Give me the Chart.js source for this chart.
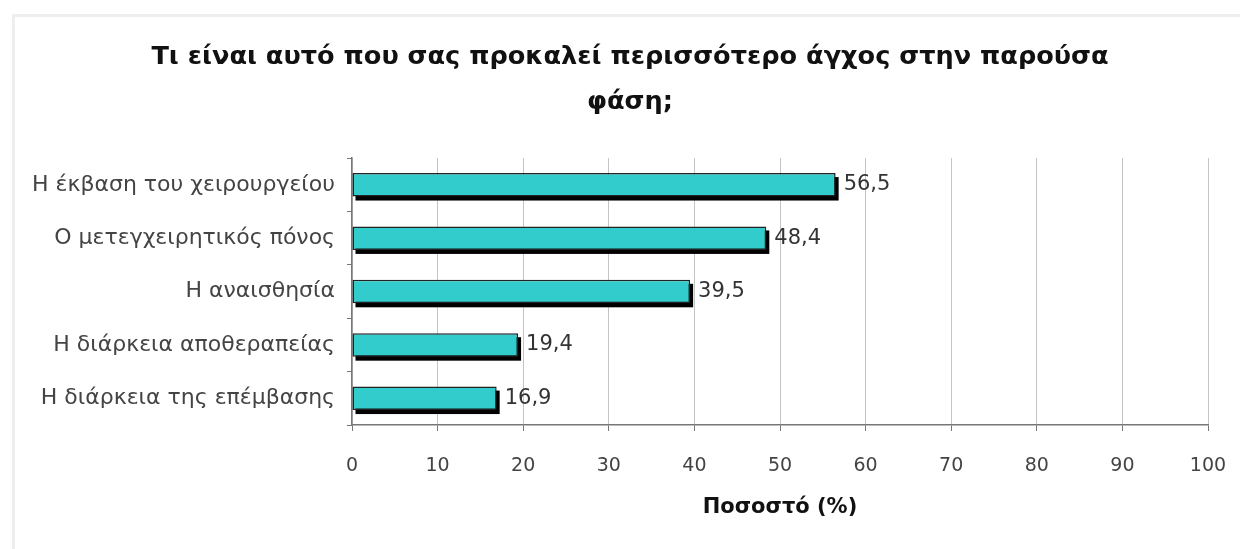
<!DOCTYPE html>
<html>
<head>
<meta charset="utf-8">
<script src="https://cdn.jsdelivr.net/npm/chart.js@4"></script>
<style>
  html, body { margin: 0; padding: 0; background: #fff; }
  #wrap { position: relative; width: 1240px; height: 549px; }
  #frame { position: absolute; left: 12px; top: 14px; right: 0; bottom: 0; border-left: 3px solid #eeeeee; border-top: 3px solid #eeeeee; }
  canvas { position: absolute; left: 0; top: 0; }
</style>
</head>
<body>
<div id="wrap">
  <div id="frame"></div>
  <canvas id="c" width="1240" height="549"></canvas>
</div>
<script>
'use strict';

const TITLE = ['Τι είναι αυτό που σας προκαλεί περισσότερο άγχος στην παρούσα', 'φάση;'];
const LABELS = [
  'Η έκβαση του χειρουργείου',
  'Ο μετεγχειρητικός πόνος',
  'Η αναισθησία',
  'Η διάρκεια αποθεραπείας',
  'Η διάρκεια της επέμβασης'
];
const VALUES = [56.5, 48.4, 39.5, 19.4, 16.9];
const X_TITLE = 'Ποσοστό (%)';

const FONT = 'DejaVu Sans, Verdana, sans-serif';

// black drop shadow behind the bars, taken from the bar elements
const shadow = {
  id: 'shadow',
  beforeDatasetsDraw(chart) {
    const c = chart.ctx;
    c.save();
    c.fillStyle = '#000';
    chart.getDatasetMeta(0).data.forEach(bar => {
      const h = bar.height;
      c.fillRect(bar.base + 3, bar.y - h / 2 + 4, bar.x - bar.base, h);
    });
    c.restore();
  }
};

// value labels at the bar ends, comma decimal
const valueLabels = {
  id: 'valueLabels',
  afterDatasetsDraw(chart) {
    const c = chart.ctx;
    c.save();
    c.font = '21px ' + FONT;
    c.fillStyle = '#333';
    c.textBaseline = 'middle';
    c.textAlign = 'left';
    chart.getDatasetMeta(0).data.forEach((bar, i) => {
      c.fillText(VALUES[i].toFixed(1).replace('.', ','), bar.x + 8, bar.y);
    });
    c.restore();
  }
};

new Chart(document.getElementById('c').getContext('2d'), {
  type: 'bar',
  data: {
    labels: LABELS,
    datasets: [{
      data: VALUES,
      backgroundColor: '#33cccc',
      borderColor: '#222',
      borderWidth: 1.5,
      borderSkipped: false,
      barPercentage: 0.88,
      categoryPercentage: 0.5
    }]
  },
  options: {
    indexAxis: 'y',
    responsive: false,
    animation: false,
    layout: { padding: { left: 20, right: 0, top: 0, bottom: 25 } },
    plugins: {
      legend: { display: false },
      tooltip: { enabled: false },
      title: {
        display: true,
        text: TITLE,
        color: '#111',
        font: { family: FONT, size: 25.6, weight: 'bold', lineHeight: 1.76 },
        padding: { top: 35, bottom: 33 }
      }
    },
    scales: {
      x: {
        min: 0, max: 100,
        ticks: { color: '#444', font: { family: FONT, size: 19 }, stepSize: 10, padding: 24 },
        grid: { color: '#c4c4c4', borderDash: [1, 3], tickLength: 6, tickBorderDash: [], tickColor: '#777' },
        border: { display: true, color: '#777', width: 1.5 },
        title: { display: true, text: X_TITLE, color: '#111', font: { family: FONT, size: 21, weight: 'bold' }, padding: { top: 0, bottom: 4 } },
        afterFit(s) { s.height = 99; s.paddingRight = 32; }
      },
      y: {
        ticks: { color: '#444', font: { family: FONT, size: 22 }, padding: 12 },
        grid: { drawOnChartArea: false, offset: true, tickLength: 5, color: '#777' },
        border: { display: true, color: '#777', width: 1.5 },
        afterFit(s) { s.width = 332; }
      }
    }
  },
  plugins: [shadow, valueLabels]
});
</script>
</body>
</html>
